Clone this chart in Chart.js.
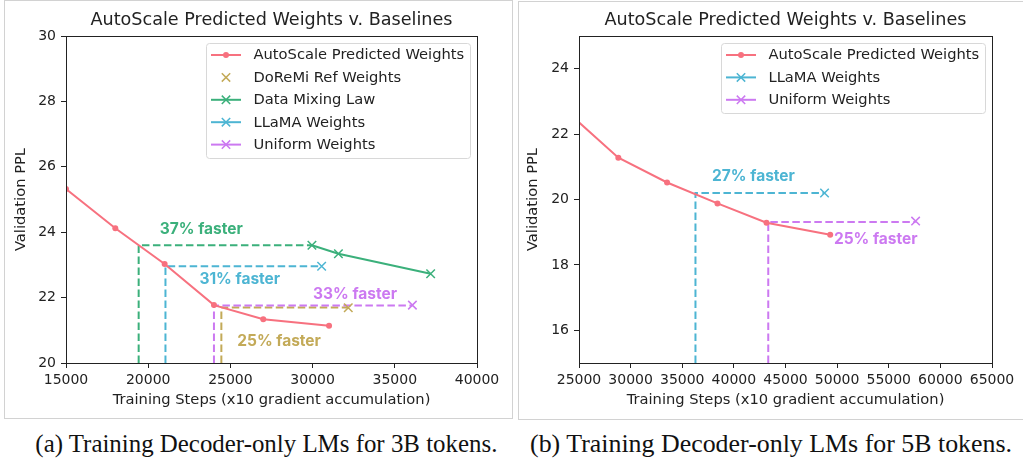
<!DOCTYPE html>
<html lang="en">
<head>
<meta charset="UTF-8">
<title>AutoScale Predicted Weights v. Baselines</title>
<script src="https://cdn.jsdelivr.net/npm/chart.js@4.4.1/dist/chart.umd.min.js"></script>
<style>
    body { margin: 0; background: #fff; width: 1023px; height: 461px; overflow: hidden; position: relative; }
    .panel { position: absolute; border: 1px solid #d2d2d2; box-sizing: border-box; }
    #panelA { left: 4px; top: 0px; width: 509px; height: 419px; }
    #panelB { left: 518px; top: 1px; width: 510px; height: 419px; }
    canvas { position: absolute; top: 0; }
    #chartA { left: 0; }
    #chartB { left: 512px; }
    .caption { position: absolute; top: 432px; font-family: "Liberation Serif", serif; font-size: 24.5px;
               line-height: 1; color: #111; white-space: nowrap; transform-origin: center top; }
</style>
</head>
<body>
<div class="panel" id="panelA"></div>
<div class="panel" id="panelB"></div>
<canvas id="chartA" width="512" height="418"></canvas>
<canvas id="chartB" width="511" height="418"></canvas>
<div class="caption" id="capA">(a) Training Decoder-only LMs for 3B tokens.</div>
<div class="caption" id="capB">(b) Training Decoder-only LMs for 5B tokens.</div>

<script>
// ---- data, 3B tokens (left) ----
var stepsAuto3B = [15000, 18000, 21000, 24000, 27000, 31000];
var pplAuto3B   = [25.32, 24.12, 23.03, 21.77, 21.34, 21.14];
var stepsDoremi3B = [32170];
var pplDoremi3B   = [21.69];
var stepsMix3B = [29960, 31570, 37180];
var pplMix3B   = [23.60, 23.34, 22.73];
var stepsLlama3B = [30550];
var pplLlama3B   = [22.96];
var stepsUniform3B = [36070];
var pplUniform3B   = [21.77];
// dashed "faster" guides: where AutoScale reaches the baseline's ppl
var guideStep3B = [19420, 21050, 24000, 24450];
var guidePpl3B  = [23.60, 22.96, 21.76, 21.70];
var guideEnd3B  = [29960, 30550, 36070, 32170];
var noteText3B = ['37% faster', '31% faster', '33% faster', '25% faster'];
var noteStep3B = [23230, 25570, 32580, 27960];
var notePpl3B  = [24.08, 22.56, 22.11, 20.67];
var xTicks3B = [15000, 20000, 25000, 30000, 35000, 40000];
var yTicks3B = [20, 22, 24, 26, 28, 30];

// ---- data, 5B tokens (right) ----
var stepsAuto5B = [24000, 28810, 33530, 38410, 43160, 49330];
var pplAuto5B   = [22.64, 21.28, 20.52, 19.88, 19.29, 18.92];
var stepsLlama5B = [48780];
var pplLlama5B   = [20.20];
var stepsUniform5B = [57600];
var pplUniform5B   = [19.34];
var guideStep5B = [36280, 43330];
var guidePpl5B  = [20.20, 19.31];
var guideEnd5B  = [48780, 57600];
var noteText5B = ['27% faster', '25% faster'];
var noteStep5B = [41900, 53740];
var notePpl5B  = [20.70, 18.79];
var xTicks5B = [25000, 30000, 35000, 40000, 45000, 50000, 55000, 60000, 65000];
var yTicks5B = [16, 18, 20, 22, 24];

var pink = '#f7717f', gold = '#c3aa58', green = '#3bb07b', cyan = '#4db5d3', purple = '#cc79f1';
var ink = '#222';
var sans = '"DejaVu Sans", sans-serif';

function pts(xs, ys) {
    return xs.map(function (x, i) { return { x: x, y: ys[i] }; });
}

function series(label, xs, ys, color, style, line) {
    return {
        label: label,
        data: pts(xs, ys),
        borderColor: color,
        backgroundColor: color,
        pointBackgroundColor: color,
        pointBorderColor: color,
        borderWidth: 2,
        showLine: line !== 'none',
        legendLine: line !== 'none',
        pointStyle: style,
        pointRadius: style === 'circle' ? 3 : 6,
        pointBorderWidth: style === 'circle' ? 0 : 1.5
    };
}

function guides(steps, ppls, ends, colors, floor) {
    return steps.map(function (s, i) {
        return {
            data: [{ x: s, y: floor }, { x: s, y: ppls[i] }, { x: ends[i], y: ppls[i] }],
            borderColor: colors[i],
            borderWidth: 2,
            borderDash: [7.5, 3.5],
            pointRadius: 0,
            fill: false
        };
    });
}

// box round the plot area (all four spines)
var frameBox = {
    id: 'frameBox',
    afterDraw: function (chart) {
        var a = chart.chartArea, ctx = chart.ctx;
        ctx.save();
        ctx.strokeStyle = ink;
        ctx.lineWidth = 1;
        ctx.strokeRect(Math.round(a.left) + 0.5, Math.round(a.top) + 0.5,
                       Math.round(a.right - a.left), Math.round(a.bottom - a.top));
        ctx.restore();
    }
};

// "xx% faster" labels, placed through the scales
var fasterNotes = {
    id: 'fasterNotes',
    afterDatasetsDraw: function (chart, args, opts) {
        var ctx = chart.ctx, sx = chart.scales.x, sy = chart.scales.y;
        ctx.save();
        ctx.font = 'bold 15.5px Inter, "DejaVu Sans", sans-serif';
        ctx.textAlign = 'center';
        ctx.textBaseline = 'middle';
        opts.text.forEach(function (t, i) {
            ctx.fillStyle = opts.colors[i];
            ctx.fillText(t, sx.getPixelForValue(opts.steps[i]), sy.getPixelForValue(opts.ppls[i]));
        });
        ctx.restore();
    }
};

// matplotlib style legend inside the upper right corner
var boxLegend = {
    id: 'boxLegend',
    afterDraw: function (chart) {
        var ctx = chart.ctx, a = chart.chartArea;
        var items = chart.data.datasets.filter(function (d) { return d.label; });
        ctx.save();
        ctx.font = '14.7px ' + sans;
        var textW = Math.max.apply(null, items.map(function (d) { return ctx.measureText(d.label).width; }));
        var rowH = 22.4;
        var w = 47.5 + textW + 6, h = items.length * rowH + 3;
        var x = Math.round(a.right - 7 - w), y = Math.round(a.top + 7);
        ctx.fillStyle = 'rgba(255,255,255,0.85)';
        ctx.strokeStyle = '#d8d8d8';
        ctx.lineWidth = 1;
        ctx.beginPath();
        ctx.roundRect(x + 0.5, y + 0.5, Math.round(w), Math.round(h), 3);
        ctx.fill();
        ctx.stroke();
        items.forEach(function (d, i) {
            var cy = y + 12 + i * rowH;
            var cx = x + 20;
            ctx.strokeStyle = d.borderColor;
            ctx.fillStyle = d.borderColor;
            if (d.legendLine) {
                ctx.lineWidth = 2;
                ctx.beginPath();
                ctx.moveTo(x + 5, cy);
                ctx.lineTo(x + 35, cy);
                ctx.stroke();
            }
            if (d.pointStyle === 'circle') {
                ctx.beginPath();
                ctx.arc(cx, cy, 3, 0, Math.PI * 2);
                ctx.fill();
            } else {
                var r = 4.2;
                ctx.lineWidth = 1.5;
                ctx.beginPath();
                ctx.moveTo(cx - r, cy - r); ctx.lineTo(cx + r, cy + r);
                ctx.moveTo(cx - r, cy + r); ctx.lineTo(cx + r, cy - r);
                ctx.stroke();
            }
            ctx.fillStyle = ink;
            ctx.textBaseline = 'middle';
            ctx.fillText(d.label, x + 47.5, cy + 0.5);
        });
        ctx.restore();
    }
};

function axis(min, max, ticks, title, isX, size) {
    return {
        type: 'linear',
        min: min,
        max: max,
        afterBuildTicks: function (s) { s.ticks = ticks.map(function (v) { return { value: v }; }); },
        afterFit: function (s) { if (isX) s.height = size; else s.width = size; },
        ticks: {
            callback: function (v) { return String(v); },
            font: { family: sans, size: 14 },
            color: ink,
            padding: isX ? 4 : 5,
            maxRotation: 0,
            autoSkip: false
        },
        grid: { drawOnChartArea: false, drawTicks: true, tickLength: 5, color: ink, tickColor: ink },
        border: { display: false },
        title: {
            display: true,
            text: title,
            color: ink,
            font: { family: sans, size: 14.7, lineHeight: 1.2 },
            padding: isX ? { top: 0, bottom: 4.2 } : { top: 7.2, bottom: 0 }
        }
    };
}

function makeChart(id, datasets, xr, yr, yWidth, padRight, notes) {
    return new Chart(document.getElementById(id), {
        type: 'line',
        data: { datasets: datasets },
        options: {
            responsive: false,
            animation: false,
            devicePixelRatio: 1,
            layout: { padding: { left: 5, right: padRight, top: 0, bottom: 5 } },
            scales: {
                x: axis(xr[0], xr[1], xr[2], 'Training Steps (x10 gradient accumulation)', true, 50),
                y: axis(yr[0], yr[1], yr[2], 'Validation PPL', false, yWidth)
            },
            plugins: {
                legend: { display: false },
                tooltip: { enabled: false },
                title: {
                    display: true,
                    fullSize: false,
                    text: 'AutoScale Predicted Weights v. Baselines',
                    color: ink,
                    font: { family: sans, size: 17.6, weight: 'normal', lineHeight: 1.2 },
                    padding: { top: 9.4, bottom: 5.5 }
                },
                fasterNotes: notes
            }
        },
        plugins: [frameBox, fasterNotes, boxLegend]
    });
}

var sets3B = [
    series('AutoScale Predicted Weights', stepsAuto3B, pplAuto3B, pink, 'circle'),
    series('DoReMi Ref Weights', stepsDoremi3B, pplDoremi3B, gold, 'crossRot', 'none'),
    series('Data Mixing Law', stepsMix3B, pplMix3B, green, 'crossRot'),
    series('LLaMA Weights', stepsLlama3B, pplLlama3B, cyan, 'crossRot'),
    series('Uniform Weights', stepsUniform3B, pplUniform3B, purple, 'crossRot')
].concat(guides(guideStep3B, guidePpl3B, guideEnd3B, [green, cyan, purple, gold], 20));

var sets5B = [
    series('AutoScale Predicted Weights', stepsAuto5B, pplAuto5B, pink, 'circle'),
    series('LLaMA Weights', stepsLlama5B, pplLlama5B, cyan, 'crossRot'),
    series('Uniform Weights', stepsUniform5B, pplUniform5B, purple, 'crossRot')
].concat(guides(guideStep5B, guidePpl5B, guideEnd5B, [cyan, purple], 15));

makeChart('chartA', sets3B, [15000, 40000, xTicks3B], [20, 30, yTicks3B], 61, 35,
    { text: noteText3B, steps: noteStep3B, ppls: notePpl3B, colors: [green, cyan, purple, gold] });
makeChart('chartB', sets5B, [25000, 65000, xTicks5B], [15, 25, yTicks5B], 62, 31,
    { text: noteText5B, steps: noteStep5B, ppls: notePpl5B, colors: [cyan, purple] });

// captions: fit the serif text to the width it has in the figure
function placeCaption(id, center, width) {
    var el = document.getElementById(id);
    var w = el.getBoundingClientRect().width;
    el.style.left = (center - w / 2) + 'px';
    el.style.transform = 'scaleX(' + (width / w) + ')';
}
placeCaption('capA', 266, 462);
placeCaption('capB', 771, 482);
</script>
</body>
</html>
